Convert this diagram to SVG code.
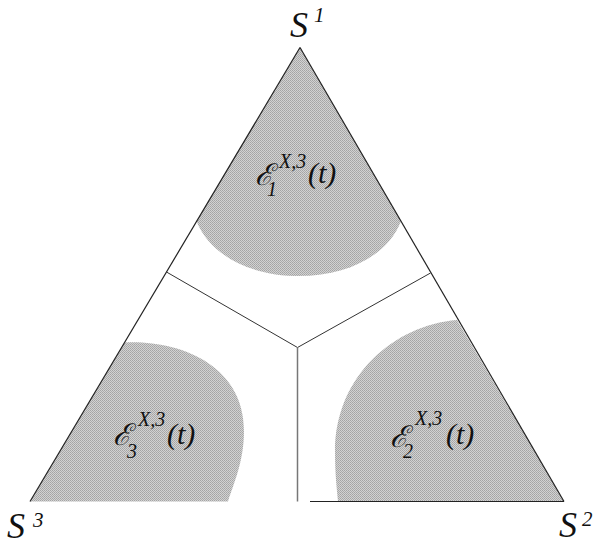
<svg xmlns="http://www.w3.org/2000/svg" width="596" height="546" viewBox="0 0 596 546">
<style>
.edge{stroke:#222;stroke-width:1.2;fill:none}
.yl{stroke:#333;stroke-width:1;fill:none}
</style>
<defs>
<pattern id="dots" width="2" height="2" patternUnits="userSpaceOnUse">
<rect width="2" height="2" fill="#d2d2d2"/>
<rect width="1" height="1" fill="#a4a4a4"/>
<rect x="1" y="1" width="1" height="1" fill="#acacac"/>
</pattern>
</defs>
<rect width="596" height="546" fill="#fff"/>
<g id="region1">
<path d="M300,47.5 L196.5,221 C210,255 250,276 299,276 C348,276 388,255 401,221 Z" fill="url(#dots)"/>
</g>
<g id="region3">
<path d="M30,501.5 L124.5,342.5 C180,340 244,365 244,431 C244,462 233,485 228,501.5 Z" fill="url(#dots)"/>
</g>
<g id="region2">
<path d="M564,501.5 L457,320 C395,325 335,375 335,452 C335,475 337,490 338,501.5 Z" fill="url(#dots)"/>
</g>
<g id="triangle">
<line class="edge" x1="300" y1="47.5" x2="30" y2="501.5"/>
<line class="edge" x1="300" y1="47.5" x2="564" y2="501.5"/>
<line class="edge" x1="310" y1="501.5" x2="564" y2="501.5" stroke="#444"/>
</g>
<g id="connectors">
<line class="yl" x1="166.5" y1="272" x2="297.5" y2="347.5"/>
<line class="yl" x1="430.5" y1="273" x2="297.5" y2="347.5"/>
<line x1="297.5" y1="347.5" x2="297.5" y2="501.5" stroke="#777" stroke-width="1.5"/>
</g>
<g font-family="'Liberation Serif', serif" font-style="italic" fill="#111">
<g id="label-S1">
<text x="290" y="37" font-size="36">S</text><text x="314" y="22" font-size="21">1</text>
</g>
<g id="label-S3">
<text x="7" y="538" font-size="36">S</text><text x="33" y="527" font-size="21">3</text>
</g>
<g id="label-S2">
<text x="559" y="537" font-size="36">S</text><text x="582" y="526" font-size="21">2</text>
</g>
<g id="label-E1">
<text x="255" y="185" font-size="30">ℰ</text><text x="267" y="196" font-size="20">1</text><text x="279" y="168" font-size="20">X,3</text><text x="308" y="183" font-size="30">(t)</text>
</g>
<g id="label-E2">
<text x="390" y="447" font-size="30">ℰ</text><text x="403" y="458" font-size="20">2</text><text x="415" y="425" font-size="20">X,3</text><text x="446" y="444" font-size="30">(t)</text>
</g>
<g id="label-E3">
<text x="113" y="445" font-size="30">ℰ</text><text x="127" y="458" font-size="20">3</text><text x="138" y="426" font-size="20">X,3</text><text x="167" y="444" font-size="30">(t)</text>
</g>
</g>
</svg>
